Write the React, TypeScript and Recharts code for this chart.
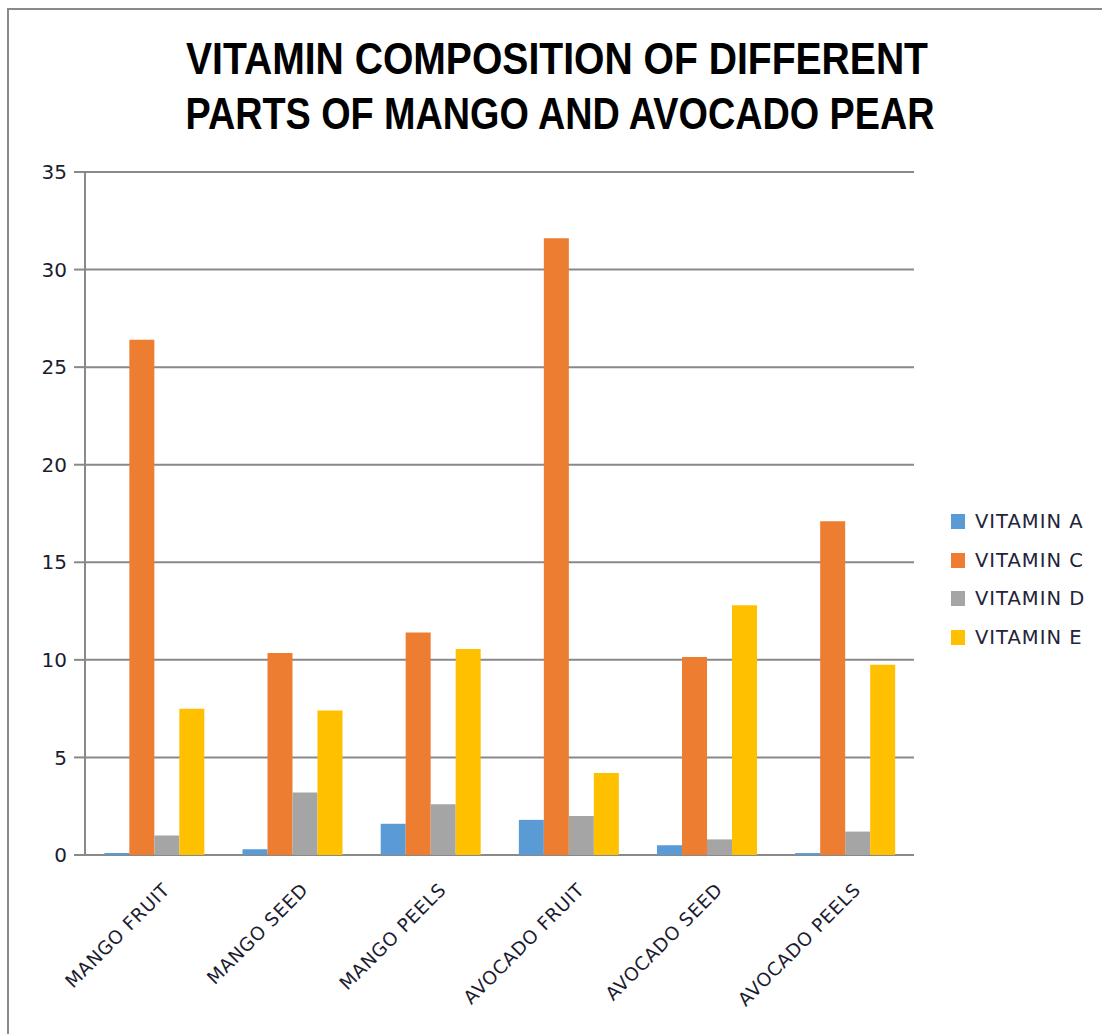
import React from 'react'
import { BarChart, Bar, XAxis, YAxis, CartesianGrid, Legend } from 'recharts'

const parts = ['MANGO FRUIT', 'MANGO SEED', 'MANGO PEELS', 'AVOCADO FRUIT', 'AVOCADO SEED', 'AVOCADO PEELS']
const vitaminA = [0.1, 0.3, 1.6, 1.8, 0.5, 0.1]
const vitaminC = [26.4, 10.35, 11.4, 31.6, 10.15, 17.1]
const vitaminD = [1.0, 3.2, 2.6, 2.0, 0.8, 1.2]
const vitaminE = [7.5, 7.4, 10.55, 4.2, 12.8, 9.75]
const yTicks = [0, 5, 10, 15, 20, 25, 30, 35]
const boundaryTicks = [0, 1, 2, 3, 4, 5, 6]

const data = parts.map((p, i) => ({
  part: p,
  idx: i + 0.5,
  a: vitaminA[i],
  c: vitaminC[i],
  d: vitaminD[i],
  e: vitaminE[i],
}))

const axisGrey = '#898989'
const textFont = "Verdana, 'DejaVu Sans', sans-serif"

// legend drawn as a plain vertical list with square swatches
const LegendList = (props: any) => {
  const { payload } = props
  return (
    <div style={{ fontFamily: textFont, fontSize: 19.5, color: '#23233a', letterSpacing: 1 }}>
      {(payload || []).map((entry: any) => (
        <div key={entry.value} style={{ display: 'flex', alignItems: 'center', height: 38.7 }}>
          <span style={{ display: 'inline-block', width: 14, height: 15, background: entry.color, marginRight: 10 }} />
          <span>{entry.value}</span>
        </div>
      ))}
    </div>
  )
}

// slanted category label, ending a little right of the category centre
const PartTick = (props: any) => {
  const { x, y, payload } = props
  return (
    <g transform={`translate(${x + 17},${y + 36}) rotate(-45)`}>
      <text x={0} y={0} textAnchor="end" fill="#1c1c30" fontSize={18.5} fontFamily={textFont} letterSpacing={0.7}>
        {payload.value}
      </text>
    </g>
  )
}

export default function App() {
  return (
    <div style={{ position: 'absolute', left: 0, top: 0, width: 1102, height: 1034, background: '#fff', overflow: 'hidden' }}>
      {/* frame */}
      <div style={{ position: 'absolute', left: 7, top: 8, width: 1200, height: 1100, borderTop: `2px solid ${axisGrey}`, borderLeft: `2px solid ${axisGrey}` }} />
      <svg width={1102} height={150} style={{ position: 'absolute', left: 0, top: 0 }}>
        <text x={557} y={74} textAnchor="middle" textLength={742} lengthAdjust="spacingAndGlyphs"
          fontFamily="'Liberation Sans Narrow', 'Liberation Sans', Arial, sans-serif" fontWeight="bold" fontSize={44} fill="#000">
          VITAMIN COMPOSITION OF  DIFFERENT
        </text>
        <text x={560} y={129} textAnchor="middle" textLength={749} lengthAdjust="spacingAndGlyphs"
          fontFamily="'Liberation Sans Narrow', 'Liberation Sans', Arial, sans-serif" fontWeight="bold" fontSize={44} fill="#000">
          PARTS OF MANGO AND AVOCADO PEAR
        </text>
      </svg>
      <div style={{ position: 'absolute', left: 0, top: 0 }}>
        <BarChart
          width={1102}
          height={1034}
          data={data}
          margin={{ top: 172, right: 188, left: 0, bottom: 29 }}
          barCategoryGap="14%"
          barGap={0}
        >
          <CartesianGrid vertical={false} stroke={axisGrey} strokeWidth={2} />
          <XAxis
            xAxisId="bounds"
            dataKey="idx"
            type="number"
            domain={[0, 6]}
            ticks={boundaryTicks}
            height={0}
            tick={false}
            tickSize={10}
            stroke={axisGrey}
            strokeWidth={2}
            tickLine={{ stroke: axisGrey, strokeWidth: 2 }}
          />
          <XAxis
            dataKey="part"
            height={150}
            axisLine={false}
            tickLine={false}
            interval={0}
            tickSize={0}
            tickMargin={0}
            tick={<PartTick />}
          />
          <YAxis
            domain={[0, 35]}
            ticks={yTicks}
            width={85}
            tickSize={11}
            tickMargin={7}
            stroke={axisGrey}
            strokeWidth={2}
            tickLine={{ stroke: axisGrey, strokeWidth: 2 }}
            tick={{ fill: '#1c1c30', fontSize: 20, fontFamily: textFont }}
          />
          <Legend
            layout="vertical"
            align="center"
            verticalAlign="middle"
            wrapperStyle={{ left: 951, top: 502, width: 151 }}
            content={<LegendList />}
          />
          <Bar dataKey="a" name="VITAMIN A" fill="#5b9bd5" isAnimationActive={false} />
          <Bar dataKey="c" name="VITAMIN C" fill="#ed7d31" isAnimationActive={false} />
          <Bar dataKey="d" name="VITAMIN D" fill="#a5a5a5" isAnimationActive={false} />
          <Bar dataKey="e" name="VITAMIN E" fill="#ffc000" isAnimationActive={false} />
        </BarChart>
      </div>
    </div>
  )
}
